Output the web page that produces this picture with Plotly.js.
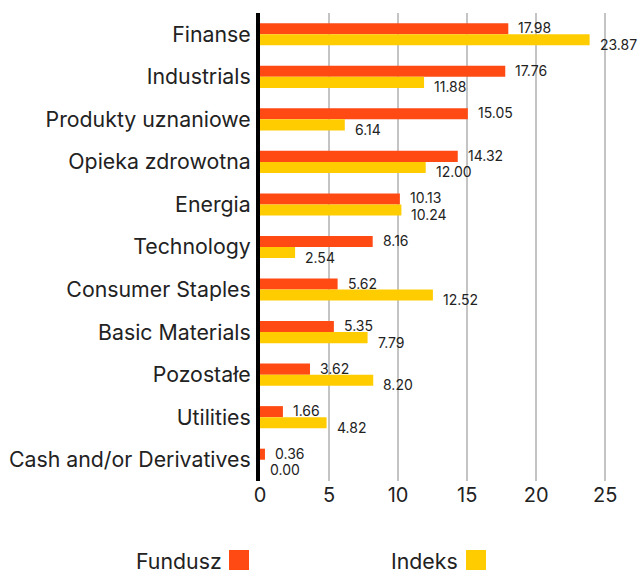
<!DOCTYPE html>
<html>
<head>
<meta charset="utf-8">
<script src="https://cdn.plot.ly/plotly-3.0.1.min.js"></script>
<style>html,body{margin:0;padding:0;background:#fff;}#chart{width:638px;height:576px;}</style>
</head>
<body>
<div id="chart"></div>
<script>
const categories = ["Finanse","Industrials","Produkty uznaniowe","Opieka zdrowotna","Energia","Technology","Consumer Staples","Basic Materials","Pozostałe","Utilities","Cash and/or Derivatives"];
const fundusz = [17.98,17.76,15.05,14.32,10.13,8.16,5.62,5.35,3.62,1.66,0.36];
const indeks = [23.87,11.88,6.14,12.00,10.24,2.54,12.52,7.79,8.20,4.82,0.00];
const seriesNames = ["Fundusz","Indeks"];
const colors = ["#ff4a14","#ffcc00"];
const xTicks = [0,5,10,15,20,25];

const FONT = "Inter, 'Noto Sans', sans-serif";

// fit category label size to reference width
const cv = document.createElement('canvas').getContext('2d');
cv.font = "100px Inter";
const w100 = cv.measureText("Cash and/or Derivatives").width;
const catSize = Math.round(242 / w100 * 100 * 10) / 10;

const L = 260, R = 637, T = 13, B = 481;
const px = x => (x - L) / (R - L);
const py = y => (B - y) / (B - T);

const traces = [fundusz, indeks].map((vals,i)=>({
  type:'bar', orientation:'h', name:seriesNames[i],
  x: vals, y: categories, marker:{color:colors[i]},
  hoverinfo:'none', showlegend:false
}));

const annotations = [];
categories.forEach((c,j)=>{
  annotations.push({x:fundusz[j], y:c, xref:'x', yref:'y', text:fundusz[j].toFixed(2), showarrow:false, xanchor:'left', yanchor:'middle', xshift:8, yshift:6.5, font:{family:FONT,size:14,color:'#222'}});
  annotations.push({x:indeks[j], y:c, xref:'x', yref:'y', text:indeks[j].toFixed(2), showarrow:false, xanchor:'left', yanchor:'middle', xshift:8, yshift:-10, font:{family:FONT,size:14,color:'#222'}});
});
// legend (text then swatch)
annotations.push({x:px(224), y:py(561), xref:'paper', yref:'paper', text:seriesNames[0], showarrow:false, xanchor:'right', yanchor:'middle', font:{family:FONT,size:catSize,color:'#222'}});
annotations.push({x:px(460), y:py(561), xref:'paper', yref:'paper', text:seriesNames[1], showarrow:false, xanchor:'right', yanchor:'middle', font:{family:FONT,size:catSize,color:'#222'}});

const shapes = [
  {type:'rect', xref:'paper', yref:'paper', x0:px(229), x1:px(249), y0:py(570), y1:py(550), fillcolor:colors[0], line:{width:0}},
  {type:'rect', xref:'paper', yref:'paper', x0:px(466), x1:px(486), y0:py(570), y1:py(550), fillcolor:colors[1], line:{width:0}}
];

const layout = {
  width:638, height:576,
  margin:{l:L, r:638-R, t:T, b:576-B},
  paper_bgcolor:'#fff', plot_bgcolor:'#fff',
  barmode:'group', bargap:0.48, bargroupgap:0,
  font:{family:FONT, color:'#222'},
  xaxis:{range:[0,27.3], tickvals:xTicks, ticktext:xTicks.map(String), showgrid:true, gridcolor:'#c4c4c4', gridwidth:2, zeroline:false, showline:false, ticks:'', tickfont:{family:FONT,size:20,color:'#222'}, fixedrange:true},
  yaxis:{autorange:'reversed', showgrid:false, zeroline:false, showline:true, linecolor:'#000', linewidth:4, ticks:'', ticklabelstandoff:1, tickfont:{family:FONT,size:catSize,color:'#222'}, fixedrange:true},
  annotations, shapes, showlegend:false
};
Plotly.newPlot('chart', traces, layout, {displayModeBar:false, staticPlot:true});
</script>
</body>
</html>
